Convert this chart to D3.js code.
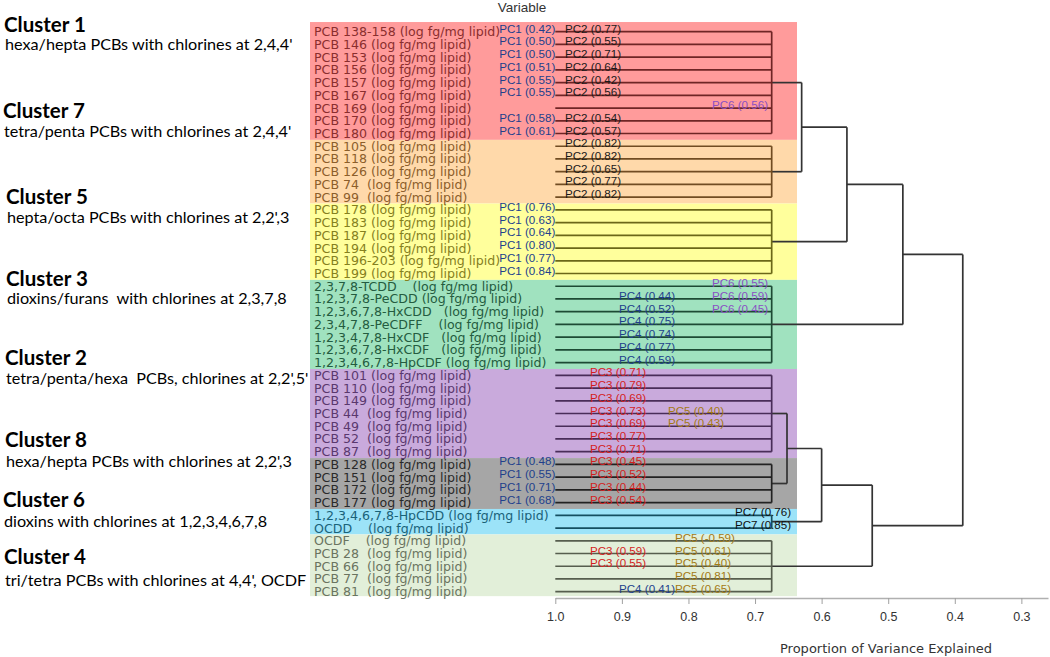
<!DOCTYPE html>
<html>
<head>
<meta charset="utf-8">
<script src="https://cdn.jsdelivr.net/npm/d3@7"></script>
<style>
  body { margin: 0; background: #fff; }
  svg text { white-space: pre; }
</style>
</head>
<body>
<svg id="chart" width="1050" height="657"></svg>
<script>
// variables, top to bottom, in dendrogram order
var rowLabels = [
  "PCB 138-158 (log fg/mg lipid)", "PCB 146 (log fg/mg lipid)", "PCB 153 (log fg/mg lipid)",
  "PCB 156 (log fg/mg lipid)", "PCB 157 (log fg/mg lipid)", "PCB 167 (log fg/mg lipid)",
  "PCB 169 (log fg/mg lipid)", "PCB 170 (log fg/mg lipid)", "PCB 180 (log fg/mg lipid)",
  "PCB 105 (log fg/mg lipid)", "PCB 118 (log fg/mg lipid)", "PCB 126 (log fg/mg lipid)",
  "PCB 74  (log fg/mg lipid)", "PCB 99  (log fg/mg lipid)",
  "PCB 178 (log fg/mg lipid)", "PCB 183 (log fg/mg lipid)", "PCB 187 (log fg/mg lipid)",
  "PCB 194 (log fg/mg lipid)", "PCB 196-203 (log fg/mg lipid)", "PCB 199 (log fg/mg lipid)",
  "2,3,7,8-TCDD    (log fg/mg lipid)", "1,2,3,7,8-PeCDD (log fg/mg lipid)",
  "1,2,3,6,7,8-HxCDD   (log fg/mg lipid)", "2,3,4,7,8-PeCDFF    (log fg/mg lipid)",
  "1,2,3,4,7,8-HxCDF   (log fg/mg lipid)", "1,2,3,6,7,8-HxCDF   (log fg/mg lipid)",
  "1,2,3,4,6,7,8-HpCDF (log fg/mg lipid)",
  "PCB 101 (log fg/mg lipid)", "PCB 110 (log fg/mg lipid)", "PCB 149 (log fg/mg lipid)",
  "PCB 44  (log fg/mg lipid)", "PCB 49  (log fg/mg lipid)", "PCB 52  (log fg/mg lipid)",
  "PCB 87  (log fg/mg lipid)",
  "PCB 128 (log fg/mg lipid)", "PCB 151 (log fg/mg lipid)", "PCB 172 (log fg/mg lipid)",
  "PCB 177 (log fg/mg lipid)",
  "1,2,3,4,6,7,8-HpCDD (log fg/mg lipid)", "OCDD    (log fg/mg lipid)",
  "OCDF    (log fg/mg lipid)", "PCB 28  (log fg/mg lipid)", "PCB 66  (log fg/mg lipid)",
  "PCB 77  (log fg/mg lipid)", "PCB 81  (log fg/mg lipid)"
];

var clusterNames = ["Cluster 1", "Cluster 7", "Cluster 5", "Cluster 3", "Cluster 2", "Cluster 8", "Cluster 6", "Cluster 4"];
var clusterNotes = [
  "hexa/hepta PCBs with chlorines at 2,4,4'",
  "tetra/penta PCBs with chlorines at 2,4,4'",
  "hepta/octa PCBs with chlorines at 2,2',3",
  "dioxins/furans  with chlorines at 2,3,7,8",
  "tetra/penta/hexa  PCBs, chlorines at 2,2',5'",
  "hexa/hepta PCBs with chlorines at 2,2',3",
  "dioxins with chlorines at 1,2,3,4,6,7,8",
  "tri/tetra PCBs with chlorines at 4,4', OCDF"
];
var clusterSizes = [9, 5, 6, 7, 7, 4, 2, 5];
var clusterHeight = 0.675;

// merges: [proportion of variance, child, child]; numbers are cluster indices
var mergeTree = [0.388,
  [0.478, [0.562, [0.630, 0, 1], 2], 3],
  [0.524, [0.600, [0.652, 4, 5], 6], 7]
];

// [row, component, loading]
var pcNotes = [
  [0, 1, 0.42], [0, 2, 0.77], [1, 1, 0.50], [1, 2, 0.55], [2, 1, 0.50], [2, 2, 0.71],
  [3, 1, 0.51], [3, 2, 0.64], [4, 1, 0.55], [4, 2, 0.42], [5, 1, 0.55], [5, 2, 0.56],
  [6, 6, 0.56], [7, 1, 0.58], [7, 2, 0.54], [8, 1, 0.61], [8, 2, 0.57],
  [9, 2, 0.82], [10, 2, 0.82], [11, 2, 0.65], [12, 2, 0.77], [13, 2, 0.82],
  [14, 1, 0.76], [15, 1, 0.63], [16, 1, 0.64], [17, 1, 0.80], [18, 1, 0.77], [19, 1, 0.84],
  [20, 6, 0.55], [21, 4, 0.44], [21, 6, 0.59], [22, 4, 0.52], [22, 6, 0.45],
  [23, 4, 0.75], [24, 4, 0.74], [25, 4, 0.77], [26, 4, 0.59],
  [27, 3, 0.71], [28, 3, 0.79], [29, 3, 0.69], [30, 3, 0.73], [30, 5, 0.40],
  [31, 3, 0.69], [31, 5, 0.43], [32, 3, 0.77], [33, 3, 0.71],
  [34, 1, 0.48], [34, 3, 0.45], [35, 1, 0.55], [35, 3, 0.52], [36, 1, 0.71], [36, 3, 0.44],
  [37, 1, 0.68], [37, 3, 0.54],
  [38, 7, 0.76], [39, 7, 0.85],
  [40, 5, -0.59], [41, 3, 0.59], [41, 5, 0.61], [42, 3, 0.55], [42, 5, 0.40],
  [43, 5, 0.81], [44, 4, 0.41], [44, 5, 0.65]
];

var xTicks = [1.0, 0.9, 0.8, 0.7, 0.6, 0.5, 0.4, 0.3];

// styles
var bandFill = ["#ff9b9b", "#ffd9aa", "#ffff9c", "#a0e2bf", "#c9aadc", "#a6a6a6", "#9ce3f8", "#e2efd9"];
var bandInk  = ["#8a2e2e", "#8c5e2a", "#85801e", "#245c40", "#5a386e", "#2a2a2a", "#1a6278", "#6a7460"];
var pcColor = {1: "#213f8c", 2: "#1a1a1a", 3: "#d41e1e", 4: "#213f8c", 5: "#a47a14", 6: "#8a50c4", 7: "#111"};
var titleY = [32, 118, 204, 286, 365, 447, 507, 564];
var noteY  = [50, 137, 223, 304, 384, 467, 527, 586];
var titleX = [4, 3, 6, 6, 5, 5, 3, 4];

var svg = d3.select("#chart"),
    bandLeft = 310, bandRight = 797;

var x = d3.scaleLinear().domain([1.0, 0.26]).range([555.3, 1048]);
var y = d3.scalePoint().domain(d3.range(rowLabels.length)).range([31.7, 591.7]);
var step = y.step();

var starts = clusterSizes.map(function(s, i) { return d3.sum(clusterSizes.slice(0, i)); });
var clusterOf = [];
clusterSizes.forEach(function(s, i) { for (var k = 0; k < s; k++) clusterOf.push(i); });

function bandTop(i) {
  return i === 0 ? y(0) - step * 0.76 : (y(starts[i]) + y(starts[i] - 1)) / 2;
}
function bandBottom(i) {
  var last = starts[i] + clusterSizes[i] - 1;
  return i === clusterSizes.length - 1 ? y(last) + step * 0.35 : (y(last) + y(last + 1)) / 2;
}

// coloured cluster bands
svg.append("g").selectAll("rect")
  .data(clusterSizes)
  .enter().append("rect")
    .attr("x", bandLeft)
    .attr("width", bandRight - bandLeft)
    .attr("y", function(s, i) { return bandTop(i); })
    .attr("height", function(s, i) { return bandBottom(i) - bandTop(i); })
    .attr("fill", function(s, i) { return bandFill[i]; });

// row labels
svg.append("g").selectAll("text")
  .data(rowLabels)
  .enter().append("text")
    .attr("x", 314)
    .attr("y", function(d, i) { return y(i) + 4.5; })
    .attr("font-family", "DejaVu Sans")
    .attr("font-size", 12.6)
    .attr("fill", function(d, i) { return bandInk[clusterOf[i]]; })
    .text(function(d) { return d; });

// dendrogram
function build(node) {
  if (typeof node === "number") {
    return {h: clusterHeight, cluster: node,
      children: d3.range(starts[node], starts[node] + clusterSizes[node]).map(function(r) { return {h: 1.0, row: r}; })};
  }
  return {h: node[0], children: node.slice(1).map(build)};
}
var root = d3.hierarchy(build(mergeTree));
root.eachAfter(function(n) {
  n.yy = n.children
    ? (d3.min(n.children, function(c) { return c.yy; }) + d3.max(n.children, function(c) { return c.yy; })) / 2
    : y(n.data.row);
});

var tree = svg.append("g").attr("fill", "none").attr("stroke-width", 1.7);
root.each(function(n) {
  if (!n.children) return;
  var col = n.data.cluster != null ? d3.color(bandInk[n.data.cluster]).darker(0.6) : "#333",
      xn = x(n.data.h);
  tree.append("line")
    .attr("x1", xn).attr("x2", xn)
    .attr("y1", d3.min(n.children, function(c) { return c.yy; }))
    .attr("y2", d3.max(n.children, function(c) { return c.yy; }))
    .attr("stroke", col);
  n.children.forEach(function(c) {
    tree.append("line")
      .attr("x1", x(c.data.h)).attr("x2", xn)
      .attr("y1", c.yy).attr("y2", c.yy)
      .attr("stroke", col);
  });
});

// component loadings
function pcX(d) {
  var pc = d[1];
  if (pc === 1) return x(1.0);
  if (pc === 2) return 565;
  if (pc === 3) return 590;
  if (pc === 4) return 619;
  if (pc === 5) return d[0] < 40 ? 668 : 675;
  if (pc === 6) return 768;
  return 735;
}
svg.append("g").selectAll("text")
  .data(pcNotes)
  .enter().append("text")
    .attr("x", pcX)
    .attr("y", function(d) { return y(d[0]) + 1; })
    .attr("text-anchor", function(d) { return d[1] === 1 || d[1] === 6 ? "end" : "start"; })
    .attr("font-family", "Liberation Sans, Arial, sans-serif")
    .attr("font-size", 11.6)
    .attr("fill", function(d) { return pcColor[d[1]]; })
    .text(function(d) { return "PC" + d[1] + " (" + d[2].toFixed(2) + ")"; });

// axis
var xAxis = d3.axisBottom(x)
    .tickValues(xTicks)
    .tickFormat(d3.format(".1f"))
    .tickSize(6)
    .tickSizeOuter(0);

svg.append("g")
    .attr("transform", "translate(0,598)")
    .call(customXAxis);

function customXAxis(g) {
  g.call(xAxis);
  g.select(".domain").attr("stroke", "#b0b0b0").attr("stroke-width", 1.5);
  g.selectAll(".tick line").attr("stroke", "#a0a0a0").attr("stroke-width", 1);
  g.selectAll(".tick text").attr("y", 14).attr("fill", "#333")
    .attr("font-family", "Liberation Sans, Arial, sans-serif").attr("font-size", 12.5);
}

svg.append("text")
    .attr("x", 886).attr("y", 653)
    .attr("text-anchor", "middle")
    .attr("font-family", "DejaVu Sans")
    .attr("font-size", 13)
    .attr("fill", "#333")
    .text("Proportion of Variance Explained");

svg.append("text")
    .attr("x", 522).attr("y", 12)
    .attr("text-anchor", "middle")
    .attr("font-family", "Liberation Sans, Arial, sans-serif")
    .attr("font-size", 13.5)
    .attr("fill", "#333")
    .text("Variable");

// cluster descriptions
var notes = svg.append("g").selectAll("g")
  .data(clusterNames)
  .enter().append("g");
notes.append("text")
    .attr("x", function(d, i) { return titleX[i]; })
    .attr("y", function(d, i) { return titleY[i]; })
    .attr("font-family", "Lato")
    .attr("font-weight", "bold")
    .attr("font-size", 20.5)
    .attr("fill", "#000")
    .text(function(d) { return d; });
notes.append("text")
    .attr("x", function(d, i) { return titleX[i] + 1; })
    .attr("y", function(d, i) { return noteY[i]; })
    .attr("font-family", "Lato")
    .attr("font-size", 16.2)
    .attr("fill", "#000")
    .text(function(d, i) { return clusterNotes[i]; });
</script>
</body>
</html>
